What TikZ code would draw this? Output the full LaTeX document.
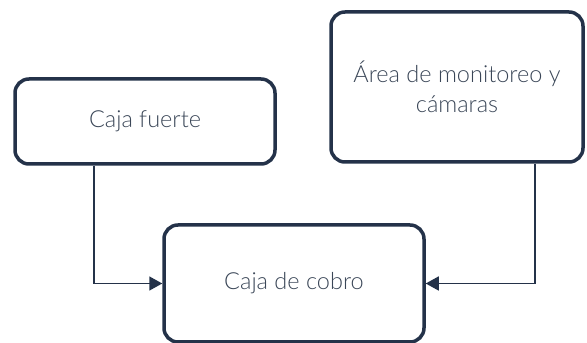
\documentclass[tikz,border=0pt]{standalone}
\usepackage{fontspec}
\setmainfont{Lato}
\newfontfamily\boxfont{Lato Light}
\usepackage{tikz}
\usetikzlibrary{arrows.meta}
\definecolor{boxline}{HTML}{243249}
\definecolor{boxtext}{HTML}{3A4657}
\tikzstyle{area} = [draw=boxline, line width=3.5pt, rounded corners=14pt, align=center, text=boxtext, font=\boxfont\fontsize{23.5}{30}\selectfont]
\tikzstyle{arrow} = [draw=boxline, line width=1.5pt, -{Triangle[length=13pt,width=14pt]}]

\begin{document}
\begin{tikzpicture}[x=1pt, y=1pt]
            \useasboundingbox (0,0) rectangle (587,343);
            % Create the three areas
            \node[area, minimum width=260pt, minimum height=85pt] (fuerte) at (145, 221.5) {Caja fuerte};
            \node[area, minimum width=252pt, minimum height=150pt] (monitoreo) at (457, 256) {Área de monitoreo y\\cámaras};
            \node[area, minimum width=260pt, minimum height=117pt] (cobro) at (294, 59.5) {Caja de cobro};

            % Draw arrows into the cash desk
            \draw[arrow] ([xshift=-51pt]fuerte.south) |- (cobro.west);
            \draw[arrow] ([xshift=78pt]monitoreo.south) |- (cobro.east);
        \end{tikzpicture}
\end{document}
